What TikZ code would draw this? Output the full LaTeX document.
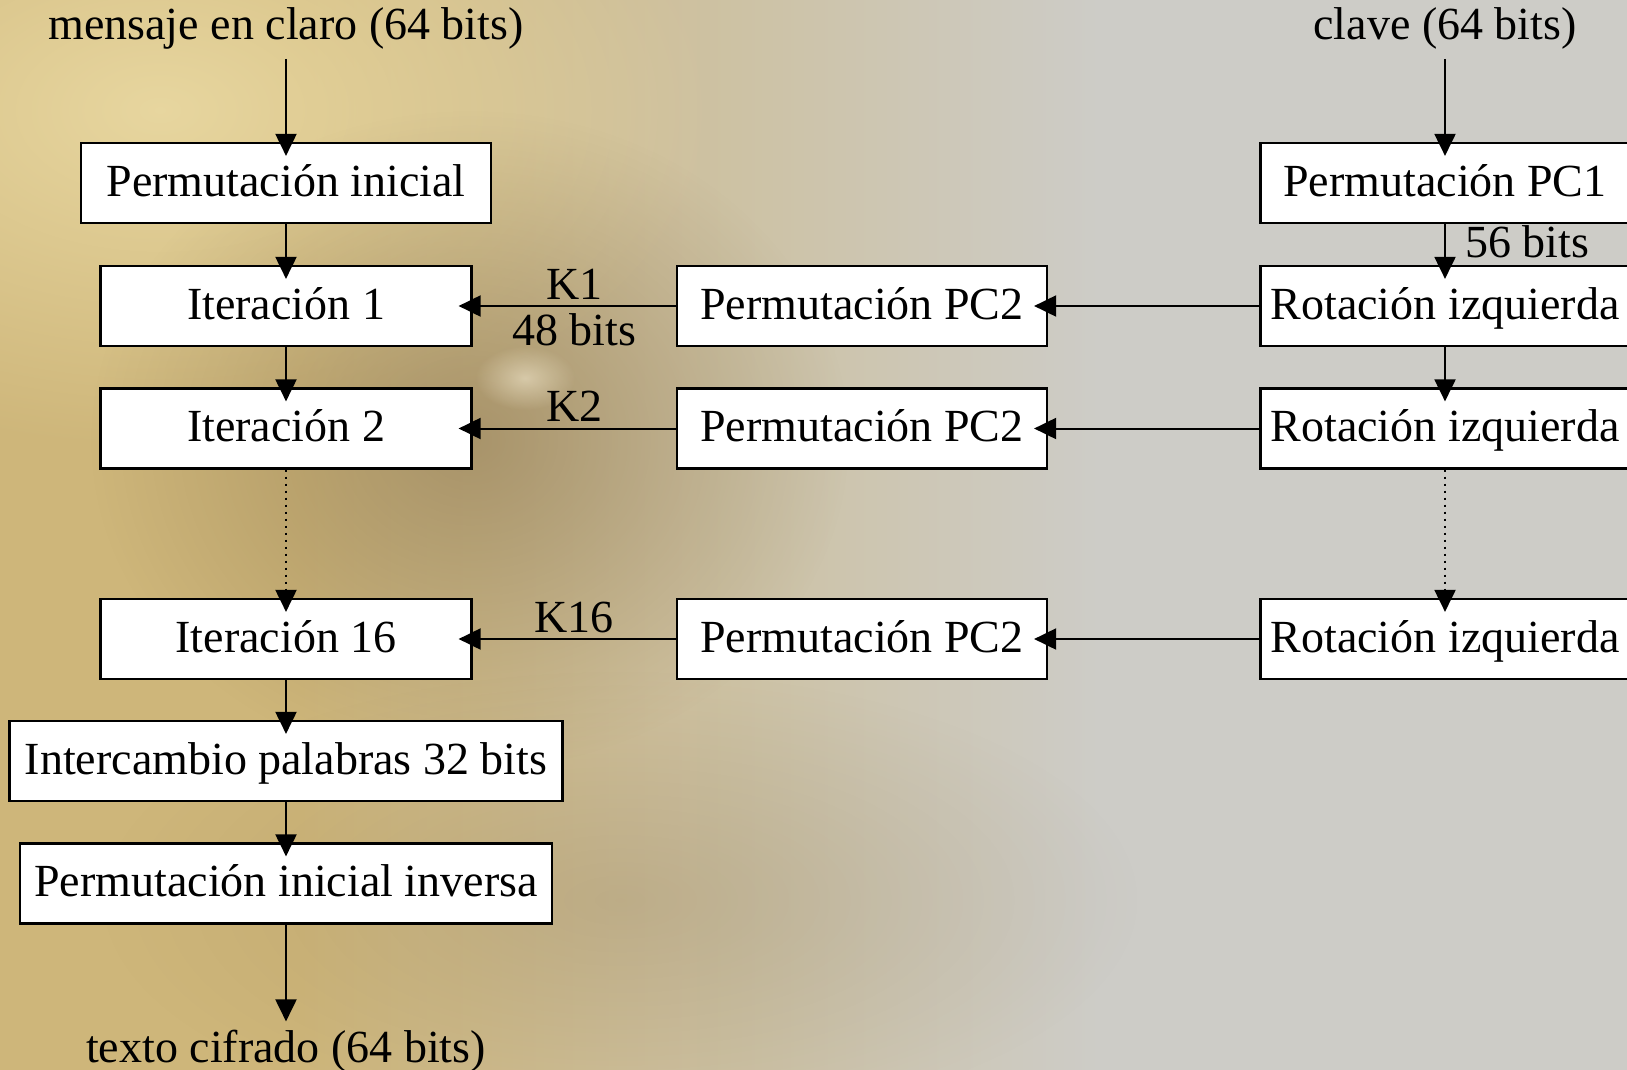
\documentclass[tikz,border=0pt]{standalone}
\usepackage{fontspec}
\setmainfont{Liberation Serif}
\usetikzlibrary{arrows.meta,fadings}

\definecolor{bgcream}{RGB}{236,220,166}
\definecolor{bgtan}{RGB}{206,182,122}
\definecolor{bgbrown}{RGB}{122,100,66}
\definecolor{bggrey}{RGB}{205,204,199}

\newcommand\diagfont{\fontsize{46pt}{55pt}\selectfont}

\tikzfading[name=softspot, inner color=transparent!0, outer color=transparent!100]

\tikzset{
  box/.style={draw=black, line width=2.2pt, fill=white, minimum height=80pt,
    inner sep=0pt, text height=32pt, text depth=6pt, font=\diagfont},
  lbl/.style={inner sep=0pt, font=\diagfont},
  flow/.style={line width=2pt, -{Triangle[length=22pt,width=21pt]}, shorten >=-14pt},
  lastflow/.style={line width=2pt, -{Triangle[length=22pt,width=21pt]}},
  skipflow/.style={flow, dash pattern=on 2pt off 5pt},
  klbl/.style={lbl, anchor=base, midway, yshift=7pt},
}

\begin{document}
\begin{tikzpicture}[x=1pt, y=-1pt]
  \useasboundingbox (0,0) rectangle (1627,1070);
  \clip (0,0) rectangle (1627,1070);

  % background: warm tan on the left fading into grey on the right
  \fill[bggrey] (0,0) rectangle (1627,1070);
  \fill[bgtan] (0,0) rectangle (300,1070);
  \shade[left color=bgtan, right color=bggrey] (299,0) rectangle (1100,1070);
  \fill[bgcream, path fading=softspot, fill opacity=0.85] (160,110) ellipse (560 and 340);
  \fill[bgbrown, path fading=softspot, fill opacity=0.45] (470,440) ellipse (380 and 330);
  \fill[bgbrown, path fading=softspot, fill opacity=0.2] (620,900) ellipse (520 and 230);
  \fill[bgcream!50!white, path fading=softspot, fill opacity=0.55] (525,378) ellipse (50 and 32);

  % data path
  \node[lbl, anchor=base] (msg) at (286,40) {mensaje en claro (64 bits)};
  \node[box, minimum width=410pt] (pi) at (286,183) {Permutación inicial};
  \node[box, minimum width=371pt] (it1) at (286,306) {Iteración 1};
  \node[box, minimum width=371pt] (it2) at (286,428.5) {Iteración 2};
  \node[box, minimum width=371pt] (it16) at (286,639) {Iteración 16};
  \node[box, minimum width=553pt] (swap) at (286,761) {Intercambio palabras 32 bits};
  \node[box, minimum width=532pt] (ipinv) at (286,883.5) {Permutación inicial inversa};
  \node[lbl, anchor=base] (ct) at (286,1062) {texto cifrado (64 bits)};

  % key schedule
  \node[lbl, anchor=base] (key) at (1445,40) {clave (64 bits)};
  \node[box, minimum width=369pt] (pc1) at (1445,183) {Permutación PC1};
  \node[box, minimum width=369pt] (rot1) at (1445,306) {Rotación izquierda};
  \node[box, minimum width=369pt] (rot2) at (1445,428.5) {Rotación izquierda};
  \node[box, minimum width=369pt] (rot16) at (1445,639) {Rotación izquierda};

  \node[box, minimum width=370pt] (pcA) at (862,306) {Permutación PC2};
  \node[box, minimum width=370pt] (pcB) at (862,428.5) {Permutación PC2};
  \node[box, minimum width=370pt] (pcC) at (862,639) {Permutación PC2};

  % vertical flow, data side
  \draw[flow] ([yshift=-9pt]msg.south) -- (pi.north);
  \draw[flow] (pi.south) -- (it1.north);
  \draw[flow] (it1.south) -- (it2.north);
  \draw[skipflow] (it2.south) -- (it16.north);
  \draw[flow] (it16.south) -- (swap.north);
  \draw[flow] (swap.south) -- (ipinv.north);
  \draw[lastflow] (ipinv.south) -- ([yshift=8pt]ct.north);

  % vertical flow, key side
  \draw[flow] ([yshift=-9pt]key.south) -- (pc1.north);
  \draw[flow] (pc1.south) -- node[lbl, anchor=base west, xshift=19pt, yshift=-12.5pt] {56 bits} (rot1.north);
  \draw[flow] (rot1.south) -- (rot2.north);
  \draw[skipflow] (rot2.south) -- (rot16.north);

  % subkeys
  \draw[flow] (rot1.west) -- (pcA.east);
  \draw[flow] (rot2.west) -- (pcB.east);
  \draw[flow] (rot16.west) -- (pcC.east);
  \draw[flow] (pcA.west) -- node[klbl] {K1} node[lbl, anchor=base, midway, yshift=-39pt] {48 bits} (it1.east);
  \draw[flow] (pcB.west) -- node[klbl] {K2} (it2.east);
  \draw[flow] (pcC.west) -- node[klbl] {K16} (it16.east);
\end{tikzpicture}
\end{document}
